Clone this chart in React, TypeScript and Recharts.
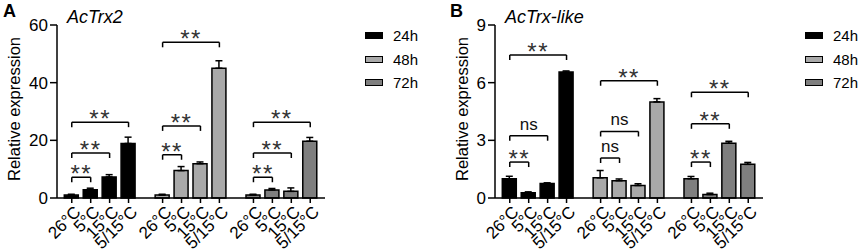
import React from "react";
import { BarChart, Bar, XAxis, YAxis, Cell, ErrorBar, ReferenceLine } from "recharts";

const categories = ["26°C", "5°C", "15°C", "5/15°C"];
const timePoints = ["24h", "48h", "72h"];
const timeFills = ["#000000", "#a9a9a9", "#7f7f7f"];

// AcTrx2 — one row per time point, columns follow categories
const trx2Means = [
  [1.0, 2.9, 7.3, 18.9],
  [1.0, 9.5, 11.9, 45.0],
  [1.0, 2.8, 2.3, 19.7],
];
const trx2Errors = [
  [0.3, 0.5, 0.8, 2.2],
  [0.3, 1.4, 0.6, 2.6],
  [0.3, 0.5, 1.2, 1.3],
];
const trx2Ticks = [0, 20, 40, 60];
// [time point, from category, to category, bracket height, mark]
const trx2Marks: [number, number, number, number, string][] = [
  [0, 0, 1, 7.2, "**"],
  [0, 0, 2, 15.6, "**"],
  [0, 0, 3, 26.3, "**"],
  [1, 0, 1, 15.0, "**"],
  [1, 0, 2, 25.0, "**"],
  [1, 0, 3, 54.0, "**"],
  [2, 0, 1, 7.2, "**"],
  [2, 0, 2, 15.6, "**"],
  [2, 0, 3, 26.3, "**"],
];

// AcTrx-like
const likeMeans = [
  [1.0, 0.27, 0.75, 6.55],
  [1.05, 0.9, 0.65, 5.0],
  [1.0, 0.18, 2.85, 1.75],
];
const likeErrors = [
  [0.13, 0.05, 0.04, 0.06],
  [0.38, 0.09, 0.09, 0.17],
  [0.12, 0.07, 0.1, 0.1],
];
const likeTicks = [0, 3, 6, 9];
const likeMarks: [number, number, number, number, string][] = [
  [0, 0, 1, 1.87, "**"],
  [0, 0, 2, 3.24, "ns"],
  [0, 0, 3, 7.44, "**"],
  [1, 0, 1, 2.08, "ns"],
  [1, 0, 2, 3.46, "ns"],
  [1, 0, 3, 6.1, "**"],
  [2, 0, 1, 1.87, "**"],
  [2, 0, 2, 3.86, "**"],
  [2, 0, 3, 5.5, "**"],
];

const GROUP_STEP = 4.8;
const FONT = '"Liberation Sans", Arial, sans-serif';

const posOf = (g: number, i: number) => g * GROUP_STEP + i;

function buildRows(means: number[][], errors: number[][]) {
  const rows = [];
  means.forEach((vals, g) =>
    vals.forEach((v, i) =>
      rows.push({ pos: posOf(g, i), label: categories[i], value: v, err: [0, errors[g][i]], group: g })
    )
  );
  return rows;
}

const AngledTick = ({ x, y, payload, rows }) => {
  const row = rows.find((r) => Math.abs(r.pos - payload.value) < 1e-6);
  const ax = x + 10;
  const ay = y + 8;
  return (
    <text x={ax} y={ay} transform={`rotate(-45 ${ax} ${ay})`} textAnchor="end" fontSize={17} fill="#000">
      {row ? row.label : ""}
    </text>
  );
};

const bracketLabel = (mark: string) => (props) => {
  const { x, y, width } = props.viewBox;
  const stars = mark === "**";
  return (
    <g>
      <line x1={x} y1={y} x2={x} y2={y + 5} stroke="#000" strokeWidth={1.5} />
      <line x1={x + width} y1={y} x2={x + width} y2={y + 5} stroke="#000" strokeWidth={1.5} />
      <text
        x={x + width / 2}
        y={stars ? y + 5 : y - 6}
        textAnchor="middle"
        fontSize={stars ? 24 : 17}
        letterSpacing={stars ? 1.5 : 0}
        fill={stars ? "#333" : "#111"}
      >
        {mark}
      </text>
    </g>
  );
};

function Panel({ left, width, letter, gene, means, errors, yTicks, marks, labelX }) {
  const rows = buildRows(means, errors);
  const yMax = yTicks[yTicks.length - 1];
  const plotRight = 57 + 268;
  return (
    <div style={{ position: "absolute", left, top: 0, width, height: 252 }}>
      <BarChart
        width={width}
        height={252}
        data={rows}
        margin={{ top: 25, right: width - plotRight, bottom: 0, left: 0 }}
      >
        <XAxis
          type="number"
          dataKey="pos"
          domain={[-0.78, posOf(2, 3) + 0.78]}
          ticks={rows.map((r) => r.pos)}
          interval={0}
          height={54}
          tickSize={5}
          axisLine={{ stroke: "#000", strokeWidth: 1.5 }}
          tickLine={{ stroke: "#000", strokeWidth: 1.5 }}
          tick={(p) => <AngledTick {...p} rows={rows} />}
          allowDataOverflow
        />
        <YAxis
          type="number"
          domain={[0, yMax]}
          ticks={yTicks}
          width={57}
          tickSize={7}
          tickMargin={2}
          axisLine={{ stroke: "#000", strokeWidth: 1.5 }}
          tickLine={{ stroke: "#000", strokeWidth: 1.5 }}
          tick={{ fill: "#000", fontSize: 17 }}
          label={{
            content: () => (
              <text
                x={labelX}
                y={109}
                transform={`rotate(-90 ${labelX} 109)`}
                textAnchor="middle"
                dominantBaseline="central"
                fontSize={16.5}
                fill="#000"
              >
                Relative expression
              </text>
            ),
          }}
        />
        <Bar dataKey="value" barSize={14} stroke="#000" strokeWidth={1.5} isAnimationActive={false}>
          {rows.map((r, i) => (
            <Cell key={`cell-${i}`} fill={timeFills[r.group]} />
          ))}
          <ErrorBar dataKey="err" width={3.5} stroke="#000" strokeWidth={1.5} isAnimationActive={false} />
        </Bar>
        {marks.map(([g, a, b, h, mark], i) => (
          <ReferenceLine
            key={`mark-${i}`}
            segment={[
              { x: posOf(g, a), y: h },
              { x: posOf(g, b), y: h },
            ]}
            stroke="#000"
            strokeWidth={1.5}
            ifOverflow="visible"
            label={bracketLabel(mark)}
          />
        ))}
      </BarChart>
      <div style={{ position: "absolute", left: letter === "A" ? 3 : 12, top: 1, fontSize: 18, fontWeight: "bold" }}>
        {letter}
      </div>
      <div style={{ position: "absolute", left: 67, top: 7, fontSize: 18, fontStyle: "italic" }}>{gene}</div>
      <div style={{ position: "absolute", left: letter === "A" ? 365 : 367, top: 24 }}>
        {timePoints.map((t, i) => (
          <div key={t} style={{ display: "flex", alignItems: "center", height: 23.5 }}>
            <div
              style={{
                width: 16,
                height: 5,
                background: timeFills[i],
                border: "1.5px solid #000",
                marginRight: 10,
              }}
            />
            <span style={{ fontSize: 15 }}>{t}</span>
          </div>
        ))}
      </div>
    </div>
  );
}

export default function App() {
  return (
    <div
      style={{
        position: "absolute",
        left: 0,
        top: 0,
        width: 858,
        height: 252,
        overflow: "hidden",
        background: "#fff",
        fontFamily: FONT,
        color: "#000",
      }}
    >
      <Panel
        left={0}
        width={430}
        letter="A"
        gene="AcTrx2"
        means={trx2Means}
        errors={trx2Errors}
        yTicks={trx2Ticks}
        marks={trx2Marks}
        labelX={14}
      />
      <Panel
        left={438}
        width={420}
        letter="B"
        gene="AcTrx-like"
        means={likeMeans}
        errors={likeErrors}
        yTicks={likeTicks}
        marks={likeMarks}
        labelX={23.5}
      />
    </div>
  );
}
